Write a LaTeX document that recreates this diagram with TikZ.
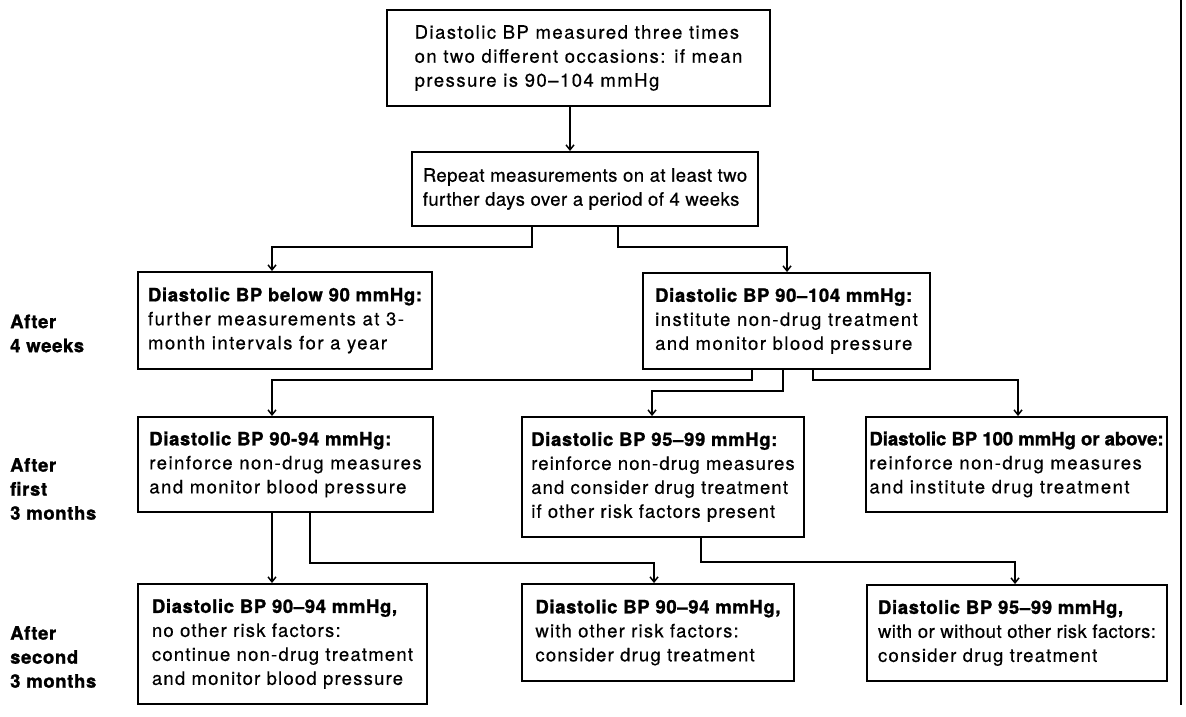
\documentclass[tikz,border=0pt]{standalone}
\usepackage{fontspec}
\setmainfont{TeX Gyre Heros}
\newfontfamily\ftwide{TeX Gyre Heros}[LetterSpace=8, FakeBold=0.5]
\newfontfamily\ftmid{TeX Gyre Heros}[LetterSpace=6.5, FakeBold=0.5]
\newfontfamily\ftsix{TeX Gyre Heros}[LetterSpace=6, FakeBold=0.5]
\newfontfamily\ftnar{TeX Gyre Heros}[LetterSpace=2.5, FakeBold=0.5]
\newfontfamily\fthead{TeX Gyre Heros}[LetterSpace=3.5, FakeBold=1.3]
\newfontfamily\ftcond{TeX Gyre Heros}[LetterSpace=0, FakeBold=1.3]
\usetikzlibrary{arrows.meta,calc}
\begin{document}
\begin{tikzpicture}[x=1pt,y=-1pt,
  box/.style={draw, line width=1.9pt, align=left, inner sep=0pt},
  fwide/.style={font=\fontsize{18.5}{24}\selectfont\ftwide},
  fmid/.style={font=\fontsize{18.5}{24}\selectfont\ftmid},
  fsix/.style={font=\fontsize{18.5}{24}\selectfont\ftsix},
  fnar/.style={font=\fontsize{18.5}{24}\selectfont\ftnar},
  conn/.style={line width=1.5pt},
  arr/.style={conn, -{Straight Barb[length=5pt,width=8pt]}},
  lab/.style={align=left, anchor=west, inner sep=0pt, font=\fontsize{18.5}{24}\selectfont\fthead\bfseries}]
\useasboundingbox (0,0) rectangle (1186,717);
\fill[white] (0,0) rectangle (1186,717);

% boxes
\node[box, fwide, minimum width=383pt, minimum height=96pt] (top) at (578.5,58)
  {Diastolic BP measured three times\\on two different occasions: if mean\\pressure is 90–104 mmHg};
\node[box, fnar, minimum width=346pt, minimum height=74pt] (box2) at (585,189)
  {Repeat measurements on at least two\\further days over a period of 4 weeks};
\node[box, fwide, minimum width=294pt, minimum height=97pt] (box3) at (285,320.5)
  {{\fthead\bfseries Diastolic BP below 90 mmHg:}\\further measurements at 3-\\month intervals for a year};
\node[box, fwide, minimum width=287pt, minimum height=96pt] (box4) at (786.5,321)
  {{\fthead\bfseries Diastolic BP 90–104 mmHg:}\\institute non-drug treatment\\and monitor blood pressure};
\node[box, fwide, minimum width=295pt, minimum height=95pt] (box5) at (285.5,464.5)
  {{\fthead\bfseries Diastolic BP 90-94 mmHg:}\\reinforce non-drug measures\\and monitor blood pressure};
\node[box, fsix, minimum width=282pt, minimum height=120pt] (box6) at (663,477)
  {{\fthead\bfseries Diastolic BP 95–99 mmHg:}\\reinforce non-drug measures\\and consider drug treatment\\if other risk factors present};
\node[box, fwide, minimum width=301pt, minimum height=95pt] (box7) at (1016.5,464.5)
  {{\ftcond\bfseries Diastolic BP 100 mmHg or above:}\\reinforce non-drug measures\\and institute drug treatment};
\node[box, fmid, minimum width=289pt, minimum height=120pt] (box8) at (282.5,644)
  {{\fthead\bfseries Diastolic BP 90–94 mmHg,}\\no other risk factors:\\continue non-drug treatment\\and monitor blood pressure};
\node[box, fmid, minimum width=272pt, minimum height=97pt] (box9) at (658,632.5)
  {{\fthead\bfseries Diastolic BP 90–94 mmHg,}\\with other risk factors:\\consider drug treatment};
\node[box, fmid, minimum width=300pt, minimum height=96pt] (box10) at (1017,633)
  {{\fthead\bfseries Diastolic BP 95–99 mmHg,}\\{\ftnar with or without other risk factors:}\\consider drug treatment};

% time labels
\node[lab] (l1) at (10,333.5) {After\\4 weeks};
\node[lab] (l2) at (10,489) {After\\first\\3 months};
\node[lab] (l3) at (10,657) {After\\second\\3 months};

% coordinates
\coordinate (x570) at (570,0);
\coordinate (x532) at (532,0);
\coordinate (x618) at (618,0);
\coordinate (x752) at (752,0);
\coordinate (x783) at (783,0);
\coordinate (x813) at (813,0);
\coordinate (x272) at (272,0);
\coordinate (x310) at (310,0);
\coordinate (x701) at (701,0);
\coordinate (j1) at (272,247);
\coordinate (j2) at (787,247);
\coordinate (j3) at (272,380);
\coordinate (j4) at (652,391);
\coordinate (j5) at (1018,380);
\coordinate (j6) at (654,563);
\coordinate (j7) at (1015,562);
\coordinate (e1) at (1181,0);
\coordinate (e2) at (1181,705);

% connectors
\draw[arr] (top.south -| x570) -- (box2.north -| x570);
\draw[arr] (box2.south -| x532) |- (j1) -- (box3.north -| j1);
\draw[arr] (box2.south -| x618) |- (j2) -- (box4.north -| j2);
\draw[arr] (box4.south -| x752) |- (j3) -- (box5.north -| j3);
\draw[arr] (box4.south -| x783) |- (j4) -- (box6.north -| j4);
\draw[arr] (box4.south -| x813) |- (j5) -- (box7.north -| j5);
\draw[arr] (box5.south -| x272) -- (box8.north -| x272);
\draw[arr] (box5.south -| x310) |- (j6) -- (box9.north -| j6);
\draw[arr] (box6.south -| x701) |- (j7) -- (box10.north -| j7);

% page edge line
\draw[line width=1.5pt] (e1) -- (e2);
\end{tikzpicture}
\end{document}
